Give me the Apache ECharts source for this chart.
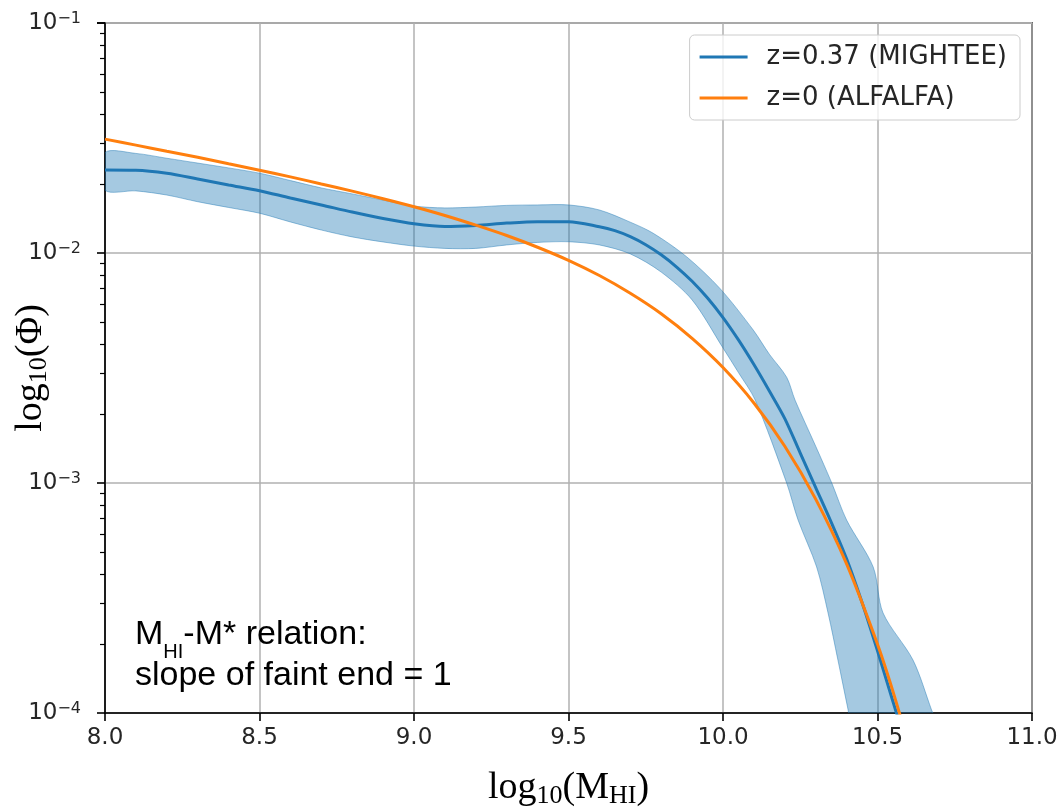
<!DOCTYPE html>
<html>
<head>
<meta charset="utf-8">
<script src="https://cdn.jsdelivr.net/npm/echarts@6/dist/echarts.min.js"></script>
<style>
html,body{margin:0;padding:0;background:#fff;}
#chart{width:1061px;height:812px;}
</style>
</head>
<body>
<div id="chart"></div>
<script>
// ---- data (log10 of Phi) ----
const xTicks = [8.0, 8.5, 9.0, 9.5, 10.0, 10.5, 11.0];
const yTickExponents = [-4, -3, -2, -1];

const mightX = [8.0,8.1,8.2,8.3,8.4,8.5,8.6,8.7,8.8,8.9,9.0,9.1,9.2,9.3,9.4,9.5,9.6,9.65,9.7,9.75,9.8,9.85,9.9,9.95,10.0,10.05,10.1,10.15,10.2,10.25,10.3,10.35,10.4,10.45,10.5,10.55,10.6];
const mightLog = [-1.639,-1.640,-1.653,-1.678,-1.704,-1.729,-1.761,-1.791,-1.822,-1.850,-1.873,-1.885,-1.880,-1.870,-1.864,-1.864,-1.886,-1.903,-1.929,-1.964,-2.008,-2.061,-2.123,-2.196,-2.281,-2.378,-2.485,-2.600,-2.720,-2.870,-3.020,-3.170,-3.330,-3.520,-3.730,-3.950,-4.170];

const bandUpperX = [8.0,8.1,8.2,8.3,8.4,8.5,8.6,8.7,8.8,8.9,9.0,9.1,9.2,9.3,9.4,9.5,9.6,9.7,9.774,9.882,9.99,10.098,10.15,10.206,10.233,10.3,10.352,10.4,10.486,10.518,10.615,10.675,10.7];
const bandUpperLog = [-1.564,-1.567,-1.588,-1.609,-1.630,-1.653,-1.685,-1.717,-1.743,-1.770,-1.796,-1.804,-1.800,-1.793,-1.791,-1.791,-1.813,-1.866,-1.914,-2.016,-2.154,-2.335,-2.440,-2.540,-2.639,-2.840,-3.000,-3.161,-3.365,-3.565,-3.770,-3.987,-4.080];

const bandLowerX = [8.0,8.1,8.2,8.3,8.4,8.5,8.6,8.7,8.8,8.9,9.0,9.1,9.2,9.3,9.4,9.5,9.6,9.7,9.8,9.9,10.0,10.05,10.104,10.206,10.243,10.303,10.34,10.372,10.405,10.42];
const bandLowerLog = [-1.726,-1.730,-1.748,-1.777,-1.802,-1.827,-1.865,-1.900,-1.930,-1.952,-1.970,-1.980,-1.980,-1.965,-1.954,-1.951,-1.965,-2.004,-2.083,-2.204,-2.413,-2.520,-2.639,-3.000,-3.161,-3.365,-3.565,-3.770,-3.987,-4.080];

const alfalfaX = [8.0,8.1,8.2,8.3,8.4,8.5,8.6,8.7,8.8,8.9,9.0,9.1,9.2,9.3,9.4,9.5,9.6,9.7,9.8,9.9,10.0,10.1,10.2,10.3,10.4,10.5,10.55,10.6];
const alfalfaLog = [-1.505,-1.531,-1.558,-1.584,-1.612,-1.640,-1.669,-1.700,-1.731,-1.764,-1.799,-1.837,-1.879,-1.924,-1.975,-2.032,-2.098,-2.175,-2.264,-2.371,-2.498,-2.652,-2.840,-3.070,-3.352,-3.701,-3.906,-4.135];

const seriesNames = ['z=0.37 (MIGHTEE)', 'z=0 (ALFALFA)'];

// ---- build ----
const p10 = v => Math.pow(10, v);
const pairs = (xs, ls) => xs.map((x, i) => [x, p10(ls[i])]);

const BLUE = '#1f77b4', ORANGE = '#ff7f0e';
const chart = echarts.init(document.getElementById('chart'), null, {renderer: 'canvas'});

const option = {
  animation: false,
  backgroundColor: '#ffffff',
  grid: {left: 105, top: 23, width: 927, height: 690, containLabel: false, outerBoundsMode: 'none',
    show: true, borderColor: '#000', borderWidth: 1.6, backgroundColor: 'transparent'},
  xAxis: {
    type: 'value', min: 8, max: 11, interval: 0.5,
    axisLine: {show: true, onZero: false, lineStyle: {color: '#000', width: 1.6}},
    axisTick: {show: true, length: 8, lineStyle: {color: '#000', width: 1.6}},
    axisLabel: {margin: 14, fontSize: 23, color: '#262626', fontFamily: 'DejaVu Sans',
      formatter: v => xTicks.some(t => Math.abs(t - v) < 1e-9) ? v.toFixed(1) : ''},
    splitLine: {show: true, lineStyle: {color: '#b0b0b0', width: 1.5}},
    name: '{a|log}{s|10}{a|(M}{s|HI}{a|)}',
    nameLocation: 'middle', nameGap: 56, nameMoveOverlap: false,
    nameTextStyle: {color: '#000', fontFamily: 'Liberation Serif',
      rich: {
        a: {fontSize: 38, fontFamily: 'Liberation Serif', color: '#000', lineHeight: 40, verticalAlign: 'top'},
        s: {fontSize: 26, fontFamily: 'Liberation Serif', color: '#000', lineHeight: 26, verticalAlign: 'top', padding: [14, 0, 0, 0]}
      }}
  },
  yAxis: {
    type: 'log', logBase: 10, min: 1e-4, max: 1e-1,
    axisLine: {show: true, onZero: false, lineStyle: {color: '#000', width: 1.6}},
    axisTick: {show: true, length: 8, lineStyle: {color: '#000', width: 1.6}},
    minorTick: {show: true, splitNumber: 9, length: 5, lineStyle: {color: '#000', width: 1.2}},
    axisLabel: {margin: 24, color: '#262626', fontFamily: 'DejaVu Sans',
      formatter: v => {
        const e = Math.round(Math.log10(v));
        return yTickExponents.indexOf(e) >= 0 ? '{a|10}{b|\u2212' + (-e) + '}' : '';
      },
      rich: {
        a: {fontSize: 23, fontFamily: 'DejaVu Sans', color: '#262626', lineHeight: 24, verticalAlign: 'bottom'},
        b: {fontSize: 16, fontFamily: 'DejaVu Sans', color: '#262626', lineHeight: 16, verticalAlign: 'top', padding: [0, 0, 13, 0]}
      }},
    splitLine: {show: true, lineStyle: {color: '#b0b0b0', width: 1.5}},
    name: '{a|log}{s|10}{a|(\u03A6)}',
    nameLocation: 'middle', nameGap: 53, nameRotate: 90, nameMoveOverlap: false,
    nameTextStyle: {color: '#000', fontFamily: 'Liberation Serif',
      rich: {
        a: {fontSize: 38, fontFamily: 'Liberation Serif', color: '#000', lineHeight: 40, verticalAlign: 'top'},
        s: {fontSize: 26, fontFamily: 'Liberation Serif', color: '#000', lineHeight: 26, verticalAlign: 'top', padding: [14, 0, 0, 0]}
      }}
  },
  legend: {
    show: true, orient: 'vertical', right: 41, top: 35,
    data: seriesNames,
    icon: 'rect', itemWidth: 48, itemHeight: 3, itemGap: 13,
    backgroundColor: 'rgba(255,255,255,0.8)', borderColor: '#cccccc', borderWidth: 1, borderRadius: 5,
    padding: [8, 13, 8, 10],
    textStyle: {fontSize: 26, fontFamily: 'DejaVu Sans', color: '#262626', lineHeight: 28, padding: [0, 0, 0, 14]}
  },
  graphic: [
    {type: 'text', left: 135, top: 618, z: 10,
      style: {text: '{m|M}{s|HI}{m|-M* relation:}', fill: '#000',
        rich: {
          m: {fontSize: 34, fontFamily: 'Liberation Sans', fill: '#000', lineHeight: 34, verticalAlign: 'top'},
          s: {fontSize: 20, fontFamily: 'Liberation Sans', fill: '#000', lineHeight: 20, verticalAlign: 'top', padding: [24, 0, 0, 0]}
        }}},
    {type: 'text', left: 135, top: 659, z: 10,
      style: {text: 'slope of faint end = 1', fill: '#000', font: '34px "Liberation Sans"'}}
  ],
  series: [
    {
      type: 'custom', name: 'band', silent: true, clip: true, z: 1,
      data: [[8.0, p10(bandUpperLog[0])]],
      encode: {x: 0, y: 1},
      renderItem: (params, api) => {
        const pts = [];
        for (let i = 0; i < bandUpperX.length; i++) pts.push(api.coord([bandUpperX[i], p10(bandUpperLog[i])]));
        for (let i = bandLowerX.length - 1; i >= 0; i--) pts.push(api.coord([bandLowerX[i], p10(bandLowerLog[i])]));
        return {type: 'polygon', shape: {points: pts, smooth: 0.3},
          style: {fill: 'rgba(31,119,180,0.4)', stroke: 'rgba(31,119,180,0.45)', lineWidth: 1}};
      }
    },
    {
      type: 'line', name: seriesNames[0], data: pairs(mightX, mightLog), z: 3,
      showSymbol: false, smooth: 0.3, clip: true,
      lineStyle: {color: BLUE, width: 3}, itemStyle: {color: BLUE}
    },
    {
      type: 'line', name: seriesNames[1], data: pairs(alfalfaX, alfalfaLog), z: 4,
      showSymbol: false, smooth: 0.3, clip: true,
      lineStyle: {color: ORANGE, width: 3}, itemStyle: {color: ORANGE}
    }
  ]
};
chart.setOption(option);
</script>
</body>
</html>
